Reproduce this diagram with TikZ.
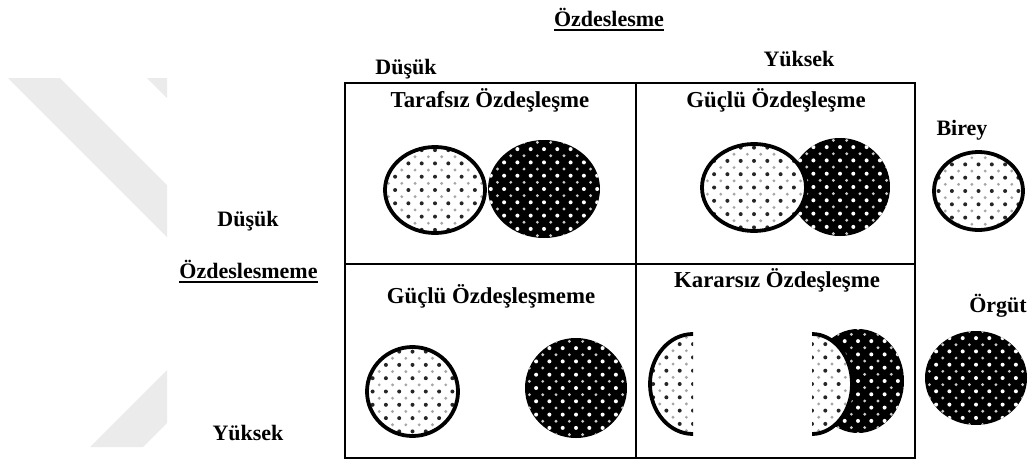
\documentclass[tikz,border=0pt]{standalone}
\usepackage{fontspec}
\setmainfont{Liberation Serif}
\definecolor{wm}{HTML}{EBEBEB}
\newcommand\lblfont{\fontsize{22}{26}\selectfont\bfseries}
\newcommand\cellfont{\fontsize{22.8}{26}\selectfont\bfseries}
% staggered dot raster around a centre: #3 main dots, #4 in-between dots
\newcommand\dotfield[4]{%
  \foreach \i in {-5,...,5}{\foreach \j in {-5,...,5}{
    \fill[#3] ({#1+13.3*\i},{#2+13.3*\j}) circle[radius=2.0];
    \fill[#4] ({#1+13.3*\i+6.65},{#2+13.3*\j+6.65}) circle[radius=1.6];}}}
% light disc: white, black dots, heavy rim
\newcommand\lightdisc[4]{%
  \begin{scope}
    \clip (#1,#2) ellipse [x radius=#3, y radius=#4];
    \fill[white] (#1,#2) ellipse [x radius=#3, y radius=#4];
    \dotfield{#1}{#2}{black!85}{black!35}
  \end{scope}
  \draw[rim] (#1,#2) ellipse [x radius=#3, y radius=#4];}
% dark disc: black, white dots
\newcommand\darkdisc[4]{%
  \fill[black] (#1,#2) ellipse [x radius=#3, y radius=#4];
  \begin{scope}
    \clip (#1,#2) ellipse [x radius=#3, y radius=#4];
    \dotfield{#1}{#2}{white}{white!80!black}
  \end{scope}}
\begin{document}
\begin{tikzpicture}[x=1pt,y=-1pt,
  lbl/.style={font=\lblfont, inner sep=0pt, anchor=base},
  cell/.style={font=\cellfont, inner sep=0pt, anchor=base},
  frame/.style={line width=1.8pt},
  rim/.style={line width=3.8pt},
  uline/.style={line width=1.6pt}]
\useasboundingbox (0,0) rectangle (1031,461);

% faint watermark bands
\fill[wm] (8,78) -- (60,78) -- (167,185) -- (167,237) -- cycle;
\fill[wm] (147,78) -- (167,78) -- (167,98) -- cycle;
\fill[wm] (90,447) -- (143,447) -- (167,423) -- (167,370) -- cycle;

% 2x2 frame
\draw[frame] (345,83) rectangle (915,458);
\draw[frame] (636,83) -- (636,458);
\draw[frame] (345,264) -- (915,264);

% axis labels
\node[lbl] (title) at (609,26) {Özdeslesme};
\draw[uline] ([yshift=-4pt]title.base west) -- ([yshift=-4pt]title.base east);
\node[lbl] (colLow) at (406,74) {Düşük};
\node[lbl] (colHigh) at (799,66) {Yüksek};
\node[lbl] (rowLow) at (248,226) {Düşük};
\node[lbl] (rowTitle) at (248.5,278) {Özdeslesmeme};
\draw[uline] ([yshift=-4pt]rowTitle.base west) -- ([yshift=-4pt]rowTitle.base east);
\node[lbl] (rowHigh) at (248,440) {Yüksek};

% cell titles
\node[cell] (cellA) at (490,107) {Tarafsız Özdeşleşme};
\node[cell] (cellB) at (776,107) {Güçlü Özdeşleşme};
\node[cell] (cellC) at (491,303) {Güçlü Özdeşleşmeme};
\node[cell] (cellD) at (777,287) {Kararsız Özdeşleşme};

% legend
\node[lbl] (birey) at (962,135) {Birey};
\node[lbl] (orgut) at (998,312) {Örgüt};
\lightdisc{978.5}{191}{44.5}{39}
\darkdisc{976}{378}{51}{47}

% neutral identification: separate discs
\lightdisc{435}{190}{50}{43}
\darkdisc{544}{189}{56}{49}

% strong identification: overlapping discs
\darkdisc{840}{187}{50}{49}
\lightdisc{754}{187.5}{52}{43.5}

% strong disidentification: far apart
\lightdisc{412.5}{391.5}{45.5}{44.5}
\darkdisc{576}{388}{51}{50}

% ambivalent identification: split individual disc
\begin{scope}
  \clip (600,300) rectangle (693,460);
  \lightdisc{693}{384}{43}{50}
\end{scope}
\darkdisc{858}{381}{46}{52}
\begin{scope}
  \clip (812,300) rectangle (910,460);
  \lightdisc{812}{384}{40}{50}
\end{scope}
\end{tikzpicture}
\end{document}
